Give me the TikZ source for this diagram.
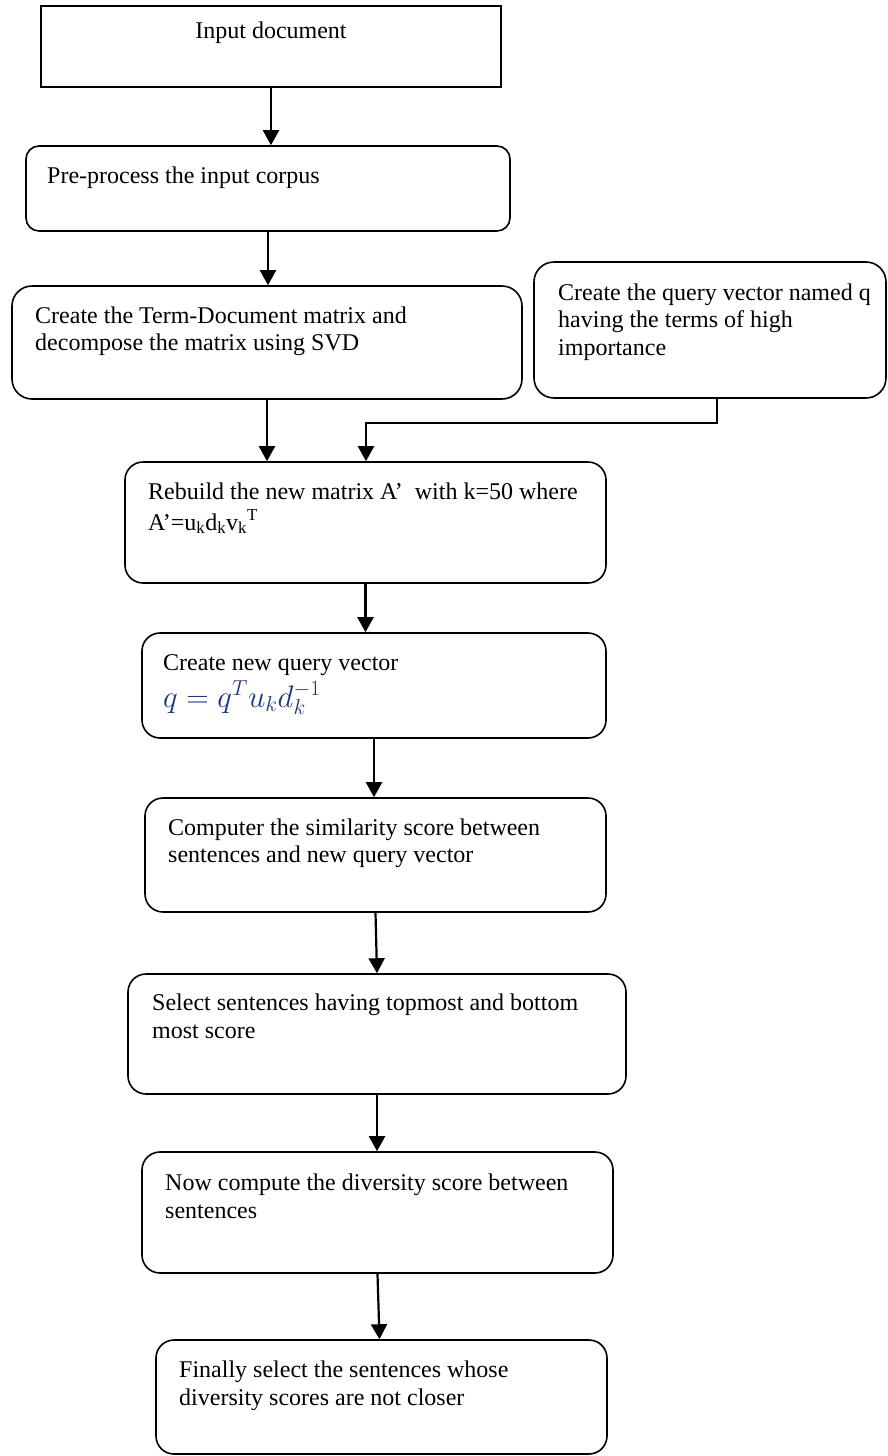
\documentclass[tikz,border=0pt]{standalone}
\usepackage{graphicx}
\usepackage{fontspec}
\setmainfont{Liberation Serif}
\usetikzlibrary{arrows.meta}
\definecolor{eqblue}{RGB}{30,55,125}
\begin{document}
\begin{tikzpicture}[x=1pt,y=-1pt,
  box/.style={draw, line width=1.6pt, rounded corners=18pt, inner sep=0pt},
  sqbox/.style={draw, line width=1.6pt, inner sep=0pt},
  txt/.style={inner sep=0pt, anchor=base west, font=\fontsize{24}{27.6}\selectfont},
  arr/.style={line width=2.2pt, -{Triangle[width=16pt,length=15pt]}},
  conn/.style={line width=2pt}]
\useasboundingbox (0,0) rectangle (888,1456);
% boxes
\node[sqbox, minimum width=460pt, minimum height=81pt] (b1) at (271,46.5) {};
\node[box, rounded corners=13pt, minimum width=484pt, minimum height=85pt] (b2) at (268,188.5) {};
\node[box, rounded corners=20pt, minimum width=510pt, minimum height=113pt] (b3) at (267,342.5) {};
\node[box, rounded corners=20pt, minimum width=352pt, minimum height=136pt] (b4) at (710,330) {};
\node[box, minimum width=481pt, minimum height=121pt] (b5) at (365.5,522.5) {};
\node[box, minimum width=464pt, minimum height=105pt] (b6) at (374,685.5) {};
\node[box, minimum width=461pt, minimum height=114pt] (b7) at (375.5,855) {};
\node[box, minimum width=498pt, minimum height=120pt] (b8) at (377,1034) {};
\node[box, minimum width=471pt, minimum height=121pt] (b9) at (377.5,1212.5) {};
\node[box, minimum width=451pt, minimum height=114pt] (b10) at (381.5,1397) {};
% texts
\node[txt, anchor=base] (t1) at (271,38) {Input document};
\node[txt] (t2) at (47,183) {Pre-process the input corpus};
\node[txt] (t3a) at (35,323) {Create the Term-Document matrix and};
\node[txt] (t3b) at (35,350) {decompose the matrix using SVD};
\node[txt] (t4a) at (558,300) {Create the query vector named q};
\node[txt] (t4b) at (558,327) {having the terms of high};
\node[txt] (t4c) at (558,355) {importance};
\node[txt] (t5a) at (148,499) {Rebuild the new matrix A’\ \ with k=50 where};
\node[txt] (t5b) at (148,530) {A’=u\textsubscript{k}d\textsubscript{k}v\textsubscript{k}\textsuperscript{T}};
\node[txt] (t6a) at (163,670) {Create new query vector};
\node[txt, text=eqblue] (t6b) at (163,707) {\scalebox{1.25}{$q = q^{T} u_{k} d_{k}^{-1}$}};
\node[txt] (t7a) at (168,835) {Computer the similarity score between};
\node[txt] (t7b) at (168,862) {sentences and new query vector};
\node[txt] (t8a) at (152,1010) {Select sentences having topmost and bottom};
\node[txt] (t8b) at (152,1038) {most score};
\node[txt] (t9a) at (165,1190) {Now compute the diversity score between};
\node[txt] (t9b) at (165,1218) {sentences};
\node[txt] (t10a) at (179,1377) {Finally select the sentences whose};
\node[txt] (t10b) at (179,1405) {diversity scores are not closer};
% connectors
\draw[arr] (b1.south) -- (b1.south |- b2.north);
\draw[arr] (b2.south) -- (b2.south |- b3.north);
\draw[arr] (b3.south) -- (b3.south |- b5.north);
\coordinate (bend) at (366,423);
\draw[arr] ([xshift=7pt]b4.south) |- (bend) -- (bend |- b5.north);
\draw[arr] (b5.south) -- (b5.south |- b6.north);
\draw[arr] (b6.south) -- (b6.south |- b7.north);
\draw[arr] (b7.south) -- (b8.north);
\draw[arr] (b8.south) -- (b8.south |- b9.north);
\draw[arr] (b9.south) -- ([xshift=-2pt]b10.north);
\end{tikzpicture}
\end{document}
